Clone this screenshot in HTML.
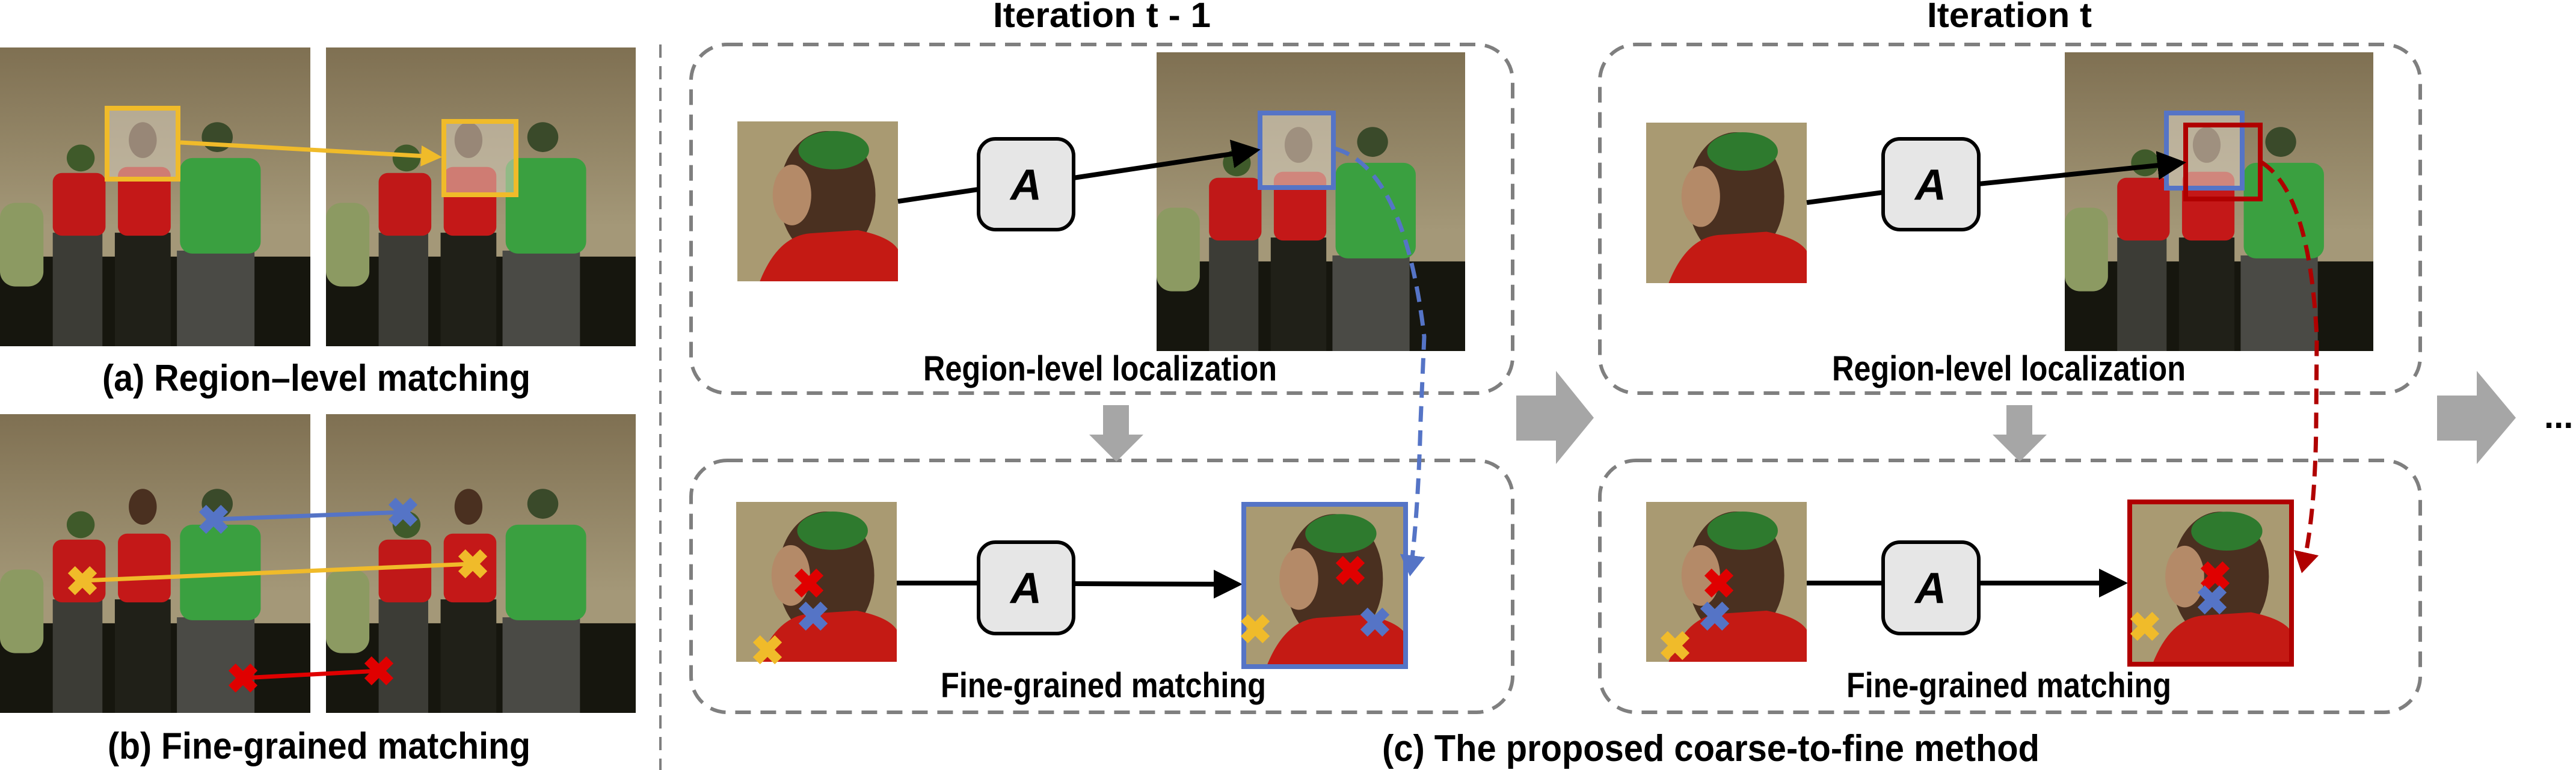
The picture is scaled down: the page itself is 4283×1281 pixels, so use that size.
<!DOCTYPE html>
<html><head><meta charset="utf-8"><style>
html,body{margin:0;padding:0;background:#fff;}
svg{display:block;}
text{font-family:"Liberation Sans",sans-serif;font-weight:bold;fill:#000;}
</style></head><body>
<svg width="4283" height="1281" viewBox="0 0 4283 1281" xmlns="http://www.w3.org/2000/svg">
<defs>
<linearGradient id="wall" x1="0" y1="0" x2="0" y2="1">
<stop offset="0" stop-color="#7f7052"/><stop offset="0.6" stop-color="#a49878"/><stop offset="1" stop-color="#a49878"/>
</linearGradient>
<symbol id="scene" viewBox="0 0 100 100" preserveAspectRatio="none">
<rect width="100" height="100" fill="url(#wall)"/>
<rect y="70" width="100" height="30" fill="#16160e"/>
<rect x="0" y="52" width="14" height="28" rx="5" fill="#8c9a62"/>
<rect x="17" y="62" width="16" height="38" fill="#3c3c36"/>
<rect x="17" y="42" width="17" height="21" rx="3" fill="#c01818"/>
<circle cx="26" cy="37" r="4.5" fill="#3f5a2a"/>
<rect x="37" y="62" width="18" height="38" fill="#202018"/>
<rect x="38" y="40" width="17" height="23" rx="3" fill="#c41818"/>
<ellipse cx="46" cy="31" rx="4.5" ry="6" fill="#4a3020"/>
<rect x="57" y="68" width="25" height="32" fill="#4a4a45"/>
<rect x="58" y="37" width="26" height="32" rx="4" fill="#3aa040"/>
<circle cx="70" cy="30" r="5" fill="#3a4a2a"/>
</symbol>
<symbol id="face" viewBox="0 0 100 100" preserveAspectRatio="none">
<rect width="100" height="100" fill="#a99a72"/>
<ellipse cx="56" cy="46" rx="30" ry="40" fill="#4a3020"/>
<ellipse cx="60" cy="18" rx="22" ry="12" fill="#2e7a2e"/>
<ellipse cx="34" cy="46" rx="12" ry="19" fill="#b48a68"/>
<path d="M14 100 Q25 72 45 70 L75 68 Q95 72 100 80 L100 100 Z" fill="#c41a14"/>
</symbol>
<symbol id="xY" viewBox="-20 -20 40 40"><path d="M-13-13L13 13M13-13L-13 13" stroke="#f0bb2a" stroke-width="12"/></symbol>
<symbol id="xB" viewBox="-20 -20 40 40"><path d="M-13-13L13 13M13-13L-13 13" stroke="#5574c6" stroke-width="12"/></symbol>
<symbol id="xR" viewBox="-20 -20 40 40"><path d="M-13-13L13 13M13-13L-13 13" stroke="#e00000" stroke-width="12"/></symbol>
<marker id="ak" markerWidth="6" markerHeight="6" refX="5" refY="3" orient="auto" markerUnits="strokeWidth"><path d="M0 0L6 3L0 6Z" fill="#000"/></marker>
<marker id="ay" markerWidth="5" markerHeight="5" refX="4" refY="2.5" orient="auto" markerUnits="strokeWidth"><path d="M0 0L5 2.5L0 5Z" fill="#f0bb2a"/></marker>
<marker id="ab" markerWidth="5" markerHeight="6" refX="3" refY="3" orient="auto" markerUnits="strokeWidth"><path d="M0 0L5 3L0 6Z" fill="#5574c6"/></marker>
<marker id="ar" markerWidth="5" markerHeight="6" refX="3" refY="3" orient="auto" markerUnits="strokeWidth"><path d="M0 0L5 3L0 6Z" fill="#b00000"/></marker>
</defs>

<!-- Left panel -->
<use href="#scene" x="0" y="79" width="516" height="497"/>
<use href="#scene" x="542" y="79" width="515" height="497"/>
<rect x="178" y="180" width="118" height="118" fill="#d8d0c0" fill-opacity="0.55" stroke="#f0bb2a" stroke-width="8"/>
<rect x="738" y="202" width="120" height="122" fill="#d8d0c0" fill-opacity="0.55" stroke="#f0bb2a" stroke-width="8"/>
<line x1="300" y1="237" x2="728" y2="261" stroke="#f0bb2a" stroke-width="7" marker-end="url(#ay)"/>
<text x="170" y="650" font-size="62" textLength="712" lengthAdjust="spacingAndGlyphs">(a) Region–level matching</text>

<use href="#scene" x="0" y="689" width="516" height="497"/>
<use href="#scene" x="542" y="689" width="515" height="497"/>
<line x1="355" y1="864" x2="670" y2="852" stroke="#5574c6" stroke-width="7"/>
<line x1="137" y1="966" x2="786" y2="938" stroke="#f0bb2a" stroke-width="7"/>
<line x1="404" y1="1128" x2="630" y2="1116" stroke="#e00000" stroke-width="7"/>
<use href="#xB" x="327" y="836" width="56" height="56"/><use href="#xB" x="642" y="824" width="56" height="56"/>
<use href="#xY" x="109" y="938" width="56" height="56"/><use href="#xY" x="758" y="910" width="56" height="56"/>
<use href="#xR" x="376" y="1100" width="56" height="56"/><use href="#xR" x="602" y="1088" width="56" height="56"/>
<text x="179" y="1262" font-size="62" textLength="703" lengthAdjust="spacingAndGlyphs">(b) Fine-grained matching</text>

<line x1="1098" y1="74" x2="1098" y2="1281" stroke="#7f7f7f" stroke-width="4" stroke-dasharray="22 14"/>

<!-- Titles -->
<text x="1651" y="45" font-size="58" textLength="362" lengthAdjust="spacingAndGlyphs">Iteration t - 1</text>
<text x="3204" y="45" font-size="58" textLength="274" lengthAdjust="spacingAndGlyphs">Iteration t</text>

<!-- Dashed boxes -->
<g fill="none" stroke="#7f7f7f" stroke-width="6" stroke-dasharray="26 16">
<rect x="1149" y="74" width="1366" height="580" rx="60"/>
<rect x="1149" y="766" width="1366" height="419" rx="60"/>
<rect x="2660" y="74" width="1364" height="580" rx="60"/>
<rect x="2660" y="766" width="1364" height="419" rx="60"/>
</g>

<!-- gray arrows -->
<g fill="#a6a6a6">
<path d="M1834 674H1877V723H1901L1856 768L1811 723H1834Z"/>
<path d="M3336 674H3379V723H3403L3358 768L3313 723H3336Z"/>
<path d="M2521 658H2587V617L2650 695L2587 772V733H2521Z"/>
<path d="M4052 658H4118V617L4183 695L4118 772V733H4052Z"/>
</g>
<text x="4230" y="712" font-size="58">...</text>

<!-- Iteration t-1 top -->
<use href="#face" x="1226" y="202" width="267" height="266"/>
<use href="#scene" x="1923" y="87" width="513" height="497"/>
<rect x="2095" y="188" width="122" height="124" fill="#d8d0c0" fill-opacity="0.6" stroke="#5574c6" stroke-width="8"/>
<line x1="1493" y1="335" x2="1627" y2="315" stroke="#000" stroke-width="8"/>
<line x1="1785" y1="296" x2="2088" y2="250" stroke="#000" stroke-width="8" marker-end="url(#ak)"/>
<rect x="1627" y="231" width="158" height="151" rx="28" fill="#e6e6e6" stroke="#000" stroke-width="6"/>
<text x="1706" y="332" font-size="72" text-anchor="middle" font-family="Liberation Serif" font-style="italic">A</text>
<text x="1535" y="633" font-size="58" textLength="588" lengthAdjust="spacingAndGlyphs">Region-level localization</text>

<!-- Iteration t-1 bottom -->
<use href="#face" x="1224" y="835" width="267" height="266"/>
<use href="#xR" x="1317" y="942" width="56" height="56"/>
<use href="#xB" x="1324" y="997" width="56" height="56"/>
<use href="#xY" x="1248" y="1053" width="56" height="56"/>
<line x1="1491" y1="970" x2="1627" y2="970" stroke="#000" stroke-width="8"/>
<line x1="1785" y1="971" x2="2058" y2="972" stroke="#000" stroke-width="8" marker-end="url(#ak)"/>
<rect x="1627" y="902" width="158" height="152" rx="28" fill="#e6e6e6" stroke="#000" stroke-width="6"/>
<text x="1706" y="1003" font-size="72" text-anchor="middle" font-family="Liberation Serif" font-style="italic">A</text>
<use href="#face" x="2068" y="839" width="269" height="270"/>
<rect x="2068" y="839" width="269" height="270" fill="none" stroke="#5574c6" stroke-width="8"/>
<use href="#xR" x="2217" y="921" width="56" height="56"/>
<use href="#xB" x="2258" y="1007" width="56" height="56"/>
<use href="#xY" x="2059" y="1018" width="56" height="56"/>
<path d="M2219 247 Q2335 280 2368 560 L2362 700 Q2358 850 2346 945" fill="none" stroke="#5574c6" stroke-width="7" stroke-dasharray="26 14" marker-end="url(#ab)"/>
<text x="1564" y="1160" font-size="58" textLength="541" lengthAdjust="spacingAndGlyphs">Fine-grained matching</text>

<!-- Iteration t top -->
<use href="#face" x="2737" y="204" width="267" height="267"/>
<use href="#scene" x="3433" y="87" width="513" height="497"/>
<rect x="3602" y="188" width="126" height="125" fill="#d8d0c0" fill-opacity="0.6" stroke="#5574c6" stroke-width="8"/>
<rect x="3634" y="208" width="124" height="123" fill="none" stroke="#b00000" stroke-width="8"/>
<line x1="3004" y1="337" x2="3131" y2="320" stroke="#000" stroke-width="8"/>
<line x1="3290" y1="306" x2="3627" y2="271" stroke="#000" stroke-width="8" marker-end="url(#ak)"/>
<rect x="3131" y="231" width="159" height="151" rx="28" fill="#e6e6e6" stroke="#000" stroke-width="6"/>
<text x="3210" y="332" font-size="72" text-anchor="middle" font-family="Liberation Serif" font-style="italic">A</text>
<text x="3046" y="633" font-size="58" textLength="588" lengthAdjust="spacingAndGlyphs">Region-level localization</text>

<!-- Iteration t bottom -->
<use href="#face" x="2737" y="835" width="267" height="266"/>
<use href="#xR" x="2830" y="942" width="56" height="56"/>
<use href="#xB" x="2823" y="997" width="56" height="56"/>
<use href="#xY" x="2757" y="1046" width="56" height="56"/>
<line x1="3004" y1="970" x2="3131" y2="970" stroke="#000" stroke-width="8"/>
<line x1="3290" y1="970" x2="3530" y2="970" stroke="#000" stroke-width="8" marker-end="url(#ak)"/>
<rect x="3131" y="902" width="159" height="152" rx="28" fill="#e6e6e6" stroke="#000" stroke-width="6"/>
<text x="3210" y="1003" font-size="72" text-anchor="middle" font-family="Liberation Serif" font-style="italic">A</text>
<use href="#face" x="3541" y="835" width="269" height="270"/>
<rect x="3541" y="835" width="269" height="270" fill="none" stroke="#b00000" stroke-width="8"/>
<use href="#xR" x="3655" y="930" width="56" height="56"/>
<use href="#xB" x="3650" y="970" width="56" height="56"/>
<use href="#xY" x="3538" y="1014" width="56" height="56"/>
<path d="M3760 270 Q3840 320 3852 560 L3851 700 Q3850 850 3830 940" fill="none" stroke="#b00000" stroke-width="7" stroke-dasharray="26 14" marker-end="url(#ar)"/>
<text x="3070" y="1160" font-size="58" textLength="540" lengthAdjust="spacingAndGlyphs">Fine-grained matching</text>

<text x="2298" y="1266" font-size="62" textLength="1093" lengthAdjust="spacingAndGlyphs">(c) The proposed coarse-to-fine method</text>
</svg>
</body></html>
